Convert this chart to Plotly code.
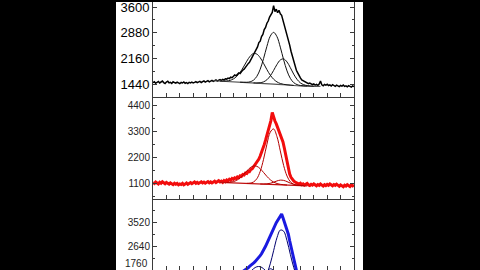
import numpy as np
import plotly.graph_objects as go

# ---------------- data ----------------
# noisy spectra sampled on x = 0 .. 15 (step 0.1)
black_y = [1495,1520,1480,1505,1530,1488,1510,1542,1498,1472,1515,1538,1492,1506,1476,1522,1500,1484,1512,1494,
           1468,1502,1488,1517,1480,1497,1471,1506,1491,1514,1487,1503,1526,1497,1509,1532,1501,1519,1546,1511,
           1527,1552,1521,1539,1562,1530,1547,1572,1542,1556,1581,1558,1590,1570,1604,1596,1625,1610,1648,1635,
           1676,1712,1688,1745,1768,1750,1812,1845,1872,1930,1962,2025,2060,2135,2180,2270,2320,2440,2490,2610,
           2650,2780,2840,2970,3030,3150,3210,3320,3370,3450,3640,3470,3540,3440,3510,3410,3370,3240,3130,2970,
           2840,2670,2540,2370,2240,2080,1970,1840,1770,1680,1630,1575,1552,1515,1500,1478,1470,1486,1455,1440,
           1462,1430,1448,1420,1456,1540,1435,1410,1445,1425,1452,1418,1436,1402,1440,1420,1395,1428,1410,1385,
           1418,1400,1430,1392,1408,1380,1414,1395,1372,1405,1388]
red_y = [1160,1120,1185,1140,1100,1170,1130,1195,1150,1110,1165,1125,1090,1145,1105,1070,1130,1085,1120,1060,
         1100,1075,1125,1065,1095,1140,1085,1120,1160,1110,1150,1185,1130,1165,1120,1155,1190,1140,1175,1130,
         1165,1200,1150,1185,1140,1175,1215,1160,1195,1235,1185,1220,1170,1245,1200,1270,1235,1300,1260,1330,
         1295,1360,1330,1400,1370,1445,1420,1500,1480,1560,1545,1630,1620,1710,1740,1820,1870,1950,2050,2150,
         2280,2420,2580,2760,2950,3150,3360,3570,3780,4120,3920,3760,3640,3500,3380,3240,3080,2880,2620,2330,
         2020,1740,1520,1380,1290,1230,1180,1150,1120,1095,1130,1070,1105,1050,1090,1120,1060,1035,1085,1050,
         1100,1065,1020,1075,1040,1095,1055,1010,1070,1030,1080,1045,1100,1060,1020,1075,1040,1090,1050,1000,
         1060,1025,980,1045,1010,1070,1030,990,1055,1020,1060]
blue_y = [1310,1270,1340,1290,1250,1320,1280,1350,1300,1260,1330,1285,1245,1315,1275,1340,1295,1255,1325,1280,
          1240,1310,1270,1345,1300,1360,1315,1270,1335,1290,1355,1305,1265,1330,1285,1350,1310,1270,1340,1295,
          1360,1315,1280,1345,1300,1370,1325,1290,1355,1315,1380,1340,1400,1360,1420,1385,1450,1420,1490,1460,
          1530,1510,1580,1570,1640,1650,1710,1740,1790,1810,1850,1880,1930,1960,2010,2050,2090,2140,2200,2260,
          2320,2390,2470,2560,2660,2770,2880,3000,3110,3230,3350,3440,3520,3600,3680,3760,3830,3700,3560,3420,
          3300,3100,2860,2620,2350,2080,1860,1700,1580,1500,1440,1400,1360,1330,1300,1280,1250,1290,1240,1270,
          1220,1260,1230,1200,1250,1215,1185,1240,1200,1170,1225,1190,1160,1215,1180,1150,1205,1170,1140,1195,
          1160,1130,1185,1150,1120,1175,1140,1110,1165,1130,1100]

# fitted components (x step 0.25)
black_c1_x0, black_c1 = 5.0, [1542,1540,1545,1561,1600,1671,1783,1931,2094,2232,2307,2291,2191,2033,1860,1707,1593,1518,1474,1450,1436,1428,1421]
black_c2_x0, black_c2 = 6.5, [1510,1507,1508,1521,1566,1672,1870,2165,2506,2789,2895,2777,2484,2131,1824,1616,1498,1443,1418,1410,1405]
black_c3_x0, black_c3 = 7.5, [1490,1488,1495,1519,1577,1684,1836,2002,2127,2156,2073,1913,1734,1588,1490,1440,1416,1405,1400]
black_base_x, black_base = [4.5, 7.0, 9.0, 11.0, 12.5], [1550, 1500, 1455, 1410, 1395]

red_c1_x0, red_c1 = 5.5, [1162,1171,1199,1255,1353,1490,1647,1786,1861,1846,1744,1586,1419,1278,1179,1117,1084,1066,1054]
red_c2_x0, red_c2 = 7.0, [1124,1135,1182,1321,1630,2142,2775,3290,3426,3104,2497,1878,1436,1192,1087,1048,1031]
red_c3_x0, red_c3 = 8.0, [1098,1097,1105,1128,1173,1227,1261,1250,1199,1134,1082,1051,1035,1026]
red_base_x, red_base = [5.0, 11.5], [1165, 1020]

blue_c1_x0, blue_c1 = 6.0, [1371,1387,1427,1497,1601,1727,1845,1917,1919,1846,1723,1583,1460,1371,1314,1280,1262]
blue_c2_x0, blue_c2 = 7.5, [1322,1328,1362,1459,1667,2023,2499,2970,3250,3209,2865,2367,1896,1556,1362,1270,1231,1211]
blue_c3_x0, blue_c3 = 7.5, [1327,1348,1420,1564,1741,1843,1787,1614,1435,1321,1271]
blue_base_x, blue_base = [5.0, 12.0], [1380, 1205]

top_ticks = [1440, 2160, 2880, 3600]
mid_ticks = [1100, 2200, 3300, 4400]
bot_ticks = [1760, 2640, 3520]

# ---------------- figure ----------------
def grid(y):
    return np.linspace(0, 15, len(y))

def cgrid(x0, y):
    return x0 + 0.25 * np.arange(len(y))

fig = go.Figure()
panels = [
    ("", black_y, "#000000", 1.5, [black_c1_x0, black_c2_x0, black_c3_x0], [black_c1, black_c2, black_c3], black_base_x, black_base, "#111111", "#555555"),
    ("2", red_y, "#f20d0d", 3.0, [red_c1_x0, red_c2_x0, red_c3_x0], [red_c1, red_c2, red_c3], red_base_x, red_base, "#b30000", "#c01010"),
    ("3", blue_y, "#1a1ae0", 3.0, [blue_c1_x0, blue_c2_x0, blue_c3_x0], [blue_c1, blue_c2, blue_c3], blue_base_x, blue_base, "#00006e", "#00006e"),
]
for sfx, ys, col, w, x0s, comps, bx, by, ccol, bcol in panels:
    xa, ya = "x" + sfx, "y" + sfx
    fig.add_trace(go.Scatter(x=grid(ys), y=ys, mode="lines", line=dict(color=col, width=w),
                             xaxis=xa, yaxis=ya, showlegend=False, hoverinfo="skip"))
    fig.add_trace(go.Scatter(x=bx, y=by, mode="lines", line=dict(color=bcol, width=1.2, shape="spline"),
                             xaxis=xa, yaxis=ya, showlegend=False, hoverinfo="skip"))
    for x0, cy in zip(x0s, comps):
        fig.add_trace(go.Scatter(x=cgrid(x0, cy), y=cy, mode="lines", line=dict(color=ccol, width=1, shape="spline"),
                                 xaxis=xa, yaxis=ya, showlegend=False, hoverinfo="skip"))

W, H = 480, 270
xdom = [153 / W, 354 / W]
axis_line = "#3a3a3a"
font = "Liberation Sans, Arial, sans-serif"

def xax(anchor, mirror):
    return dict(domain=xdom, anchor=anchor, range=[0, 15], showticklabels=False, ticks="inside",
                dtick=1, tick0=0, ticklen=4, tickcolor=axis_line, showline=True, linecolor=axis_line,
                linewidth=1, mirror=mirror, showgrid=False, zeroline=False)

def yax(anchor, dom, rng, tv, size, color):
    minor_vals = [(tv[i] + tv[i + 1]) / 2 for i in range(len(tv) - 1)]
    minor_vals = [tv[0] - (tv[1] - tv[0]) / 2] + minor_vals + [tv[-1] + (tv[1] - tv[0]) / 2]
    return dict(domain=dom, anchor=anchor, range=rng, tickvals=tv, ticks="inside", ticklen=4,
                tickcolor=axis_line, showline=True, linecolor=axis_line, linewidth=1, mirror="ticks",
                showgrid=False, zeroline=False, ticklabeloverflow="allow",
                tickfont=dict(size=size, color=color, family=font),
                minor=dict(tickvals=minor_vals, ticks="inside", ticklen=2, tickcolor=axis_line, showgrid=False))

fig.update_layout(
    width=W, height=H, margin=dict(l=0, r=0, t=0, b=0),
    paper_bgcolor="black", plot_bgcolor="rgba(0,0,0,0)",
    font=dict(family=font),
    xaxis=xax("y", False),
    xaxis2=xax("y2", True),
    xaxis3=xax("y3", True),
    yaxis=yax("x", [1 - 96 / H, 1.0], [1090, 3739], top_ticks, 13, "#000000"),
    yaxis2=yax("x2", [1 - 198 / H, 1 - 96.5 / H], [483, 4744], mid_ticks, 10, "#222222"),
    yaxis3=yax("x3", [0.0, 1 - 199 / H], [1799, 4360], bot_ticks, 10, "#222222"),
    shapes=[dict(type="rect", xref="paper", yref="paper", x0=116 / W, x1=363 / W, y0=0, y1=1,
                 fillcolor="white", line=dict(width=0), layer="below")],
    annotations=[dict(text="1760", xref="paper", yref="paper", x=149 / W, y=0, xanchor="right",
                      yanchor="bottom", showarrow=False, borderpad=0,
                      font=dict(size=10, color="#222222", family=font))],
)

fig.write_html("out.html")
